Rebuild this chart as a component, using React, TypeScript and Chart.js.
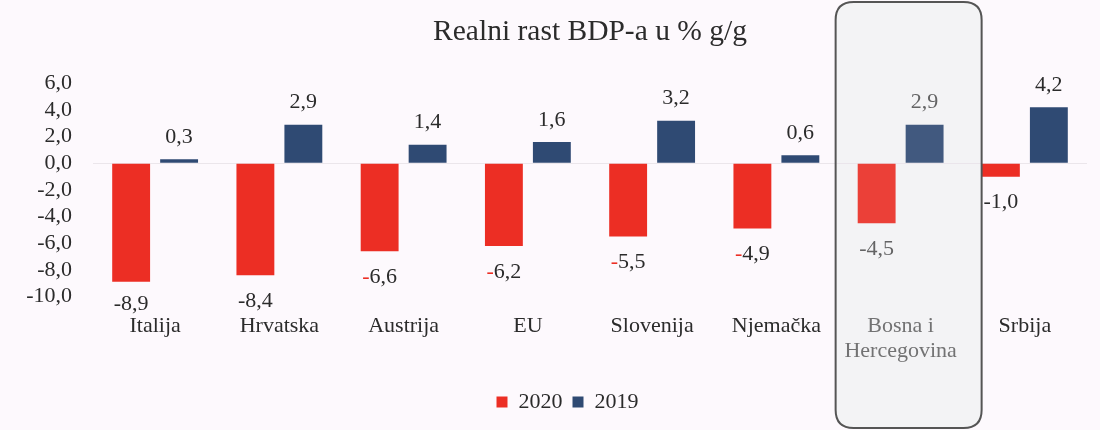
import { useEffect, useRef } from 'react';
import { Chart, registerables } from 'chart.js';

Chart.register(...registerables);

const categories: (string | string[])[] = ['Italija', 'Hrvatska', 'Austrija', 'EU', 'Slovenija', 'Njemačka', ['Bosna i', 'Hercegovina'], 'Srbija'];
const values2020 = [-8.9, -8.4, -6.6, -6.2, -5.5, -4.9, -4.5, -1.0];
const values2019 = [0.3, 2.9, 1.4, 1.6, 3.2, 0.6, 2.9, 4.2];
const seriesLabels = ['2020', '2019'];
const yTicks = [6, 4, 2, 0, -2, -4, -6, -8, -10];
const titleText = 'Realni rast BDP-a u % g/g';
const redMinus = [false, false, true, true, true, true, false, false];
const highlightIndex = 6;

const FONT = "'Liberation Serif', 'Times New Roman', Times, serif";
const RED = '#ec2e24';
const BLUE = '#2f4a73';
const TEXT = '#2b2b2b';

const fmt = (v: number) => v.toFixed(1).replace('.', ',');

function roundRect(ctx: CanvasRenderingContext2D, x: number, y: number, w: number, h: number, r: number) {
  ctx.beginPath();
  ctx.moveTo(x + r, y);
  ctx.lineTo(x + w - r, y);
  ctx.quadraticCurveTo(x + w, y, x + w, y + r);
  ctx.lineTo(x + w, y + h - r);
  ctx.quadraticCurveTo(x + w, y + h, x + w - r, y + h);
  ctx.lineTo(x + r, y + h);
  ctx.quadraticCurveTo(x, y + h, x, y + h - r);
  ctx.lineTo(x, y + r);
  ctx.quadraticCurveTo(x, y, x + r, y);
  ctx.closePath();
}

export default function App() {
  const ref = useRef<HTMLCanvasElement>(null);

  useEffect(() => {
    document.body.style.margin = '0';
    const canvas = ref.current;
    if (!canvas) return;

    const boxPlugin = {
      id: 'highlightBox',
      afterLayout(chart: any) {
        if (chart.legend) {
          chart.legend.left += 48;
        }
      },
      beforeDraw(chart: any) {
        const { ctx } = chart;
        ctx.save();
        ctx.fillStyle = '#fdf9fd';
        ctx.fillRect(0, 0, chart.width, chart.height);
        const cx = chart.scales.x.getPixelForValue(highlightIndex);
        roundRect(ctx, cx - 65, 2, 146, 426, 18);
        ctx.fillStyle = '#f5f5f6';
        ctx.fill();
        ctx.restore();
      },
      afterDraw(chart: any) {
        const { ctx } = chart;
        ctx.save();
        const cx = chart.scales.x.getPixelForValue(highlightIndex);
        roundRect(ctx, cx - 65, 2, 146, 426, 18);
        ctx.fillStyle = 'rgba(225,228,232,0.1)';
        ctx.fill();
        ctx.strokeStyle = '#555';
        ctx.lineWidth = 2;
        ctx.stroke();
        ctx.restore();
      },
    };

    const labelPlugin = {
      id: 'valueLabels',
      afterDatasetsDraw(chart: any) {
        const { ctx } = chart;
        ctx.save();
        ctx.font = `22px ${FONT}`;
        ctx.textBaseline = 'middle';
        chart.data.datasets.forEach((ds: any, di: number) => {
          const meta = chart.getDatasetMeta(di);
          meta.data.forEach((bar: any, i: number) => {
            const v = ds.data[i] as number;
            const txt = fmt(v);
            const color = i === highlightIndex ? '#555' : TEXT;
            if (v >= 0) {
              ctx.textAlign = 'center';
              ctx.fillStyle = color;
              ctx.fillText(txt, bar.x, bar.y - 22);
            } else {
              const y = Math.min(bar.y + 26, 304);
              if (redMinus[i]) {
                const w = ctx.measureText(txt).width;
                const start = bar.x - w / 2;
                ctx.textAlign = 'left';
                ctx.fillStyle = RED;
                ctx.fillText('-', start, y);
                ctx.fillStyle = color;
                ctx.fillText(txt.slice(1), start + ctx.measureText('-').width, y);
              } else {
                ctx.textAlign = 'center';
                ctx.fillStyle = color;
                ctx.fillText(txt, bar.x, y);
              }
            }
          });
        });
        ctx.restore();
      },
    };

    const chart = new Chart(canvas, {
      type: 'bar',
      data: {
        labels: categories,
        datasets: [
          { label: seriesLabels[0], data: values2020, backgroundColor: RED, borderWidth: 0, categoryPercentage: 0.772, barPercentage: 0.79 },
          { label: seriesLabels[1], data: values2019, backgroundColor: BLUE, borderWidth: 0, categoryPercentage: 0.772, barPercentage: 0.79 },
        ],
      },
      options: {
        animation: false,
        responsive: false,
        maintainAspectRatio: false,
        layout: { padding: { top: 0, left: 0, right: 13, bottom: 7 } },
        plugins: {
          title: {
            display: true,
            text: titleText,
            fullSize: false,
            color: TEXT,
            font: { family: FONT, size: 29.5, weight: 'normal', lineHeight: 1.2 },
            padding: { top: 15, bottom: 33 },
          },
          legend: {
            position: 'bottom',
            labels: {
              boxWidth: 11,
              boxHeight: 11,
              color: TEXT,
              font: { family: FONT, size: 22 },
              padding: 10,
            },
          },
          tooltip: { enabled: false },
        },
        scales: {
          x: {
            grid: { display: false, drawTicks: false },
            border: { display: false },
            ticks: {
              color: (c: any) => (c.index === highlightIndex ? '#666' : TEXT),
              font: { family: FONT, size: 22, lineHeight: 1.1 },
              padding: 18,
              maxRotation: 0,
              autoSkip: false,
            },
            afterFit: (s: any) => { s.height = 84.5; },
          },
          y: {
            min: -10,
            max: 6,
            afterBuildTicks: (s: any) => { s.ticks = yTicks.map((v) => ({ value: v })); },
            grid: {
              drawTicks: false,
              color: (c: any) => (c.tick && c.tick.value === 0 ? '#ebe6eb' : 'rgba(0,0,0,0)'),
            },
            border: { display: false },
            ticks: {
              color: TEXT,
              font: { family: FONT, size: 22 },
              padding: 21,
              autoSkip: false,
              callback: (v: any) => fmt(Number(v)),
            },
            afterFit: (s: any) => { s.width = 93; },
          },
        },
      },
      plugins: [boxPlugin, labelPlugin],
    } as any);

    return () => chart.destroy();
  }, []);

  return <canvas ref={ref} width={1100} height={430} style={{ display: 'block' }} />;
}
